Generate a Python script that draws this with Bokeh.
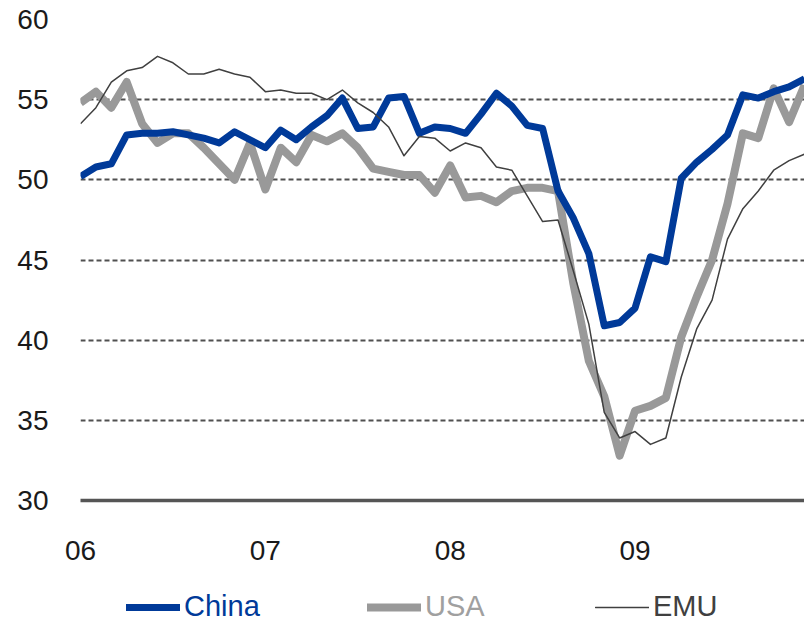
from bokeh.plotting import figure
from bokeh.models import Range1d, FixedTicker, Legend, LegendItem, ColumnDataSource
from bokeh.layouts import column
from bokeh.embed import file_html
from bokeh.resources import INLINE

# Monthly index: 0 = Jan 2006 ... 47 = Dec 2009
months = list(range(48))
year_ticks = [0, 12, 24, 36]
year_labels = ["06", "07", "08", "09"]
y_ticks = [30, 35, 40, 45, 50, 55, 60]

china = [50.2, 50.8, 51.0, 52.8, 52.9, 52.9, 53.0, 52.8, 52.6, 52.3, 53.0, 52.5,
         52.0, 53.1, 52.5, 53.3, 54.0, 55.1, 53.2, 53.3, 55.1, 55.2, 52.9, 53.3,
         53.2, 52.9, 54.1, 55.4, 54.6, 53.4, 53.2, 49.3, 47.6, 45.4, 40.9, 41.1,
         42.0, 45.2, 44.9, 50.1, 51.1, 51.9, 52.8, 55.3, 55.1, 55.5, 55.8, 56.3]
usa = [54.8, 55.5, 54.5, 56.1, 53.5, 52.3, 52.9, 52.9, 52.0, 51.0, 50.0, 52.3,
       49.4, 52.0, 51.1, 52.8, 52.4, 52.9, 52.0, 50.7, 50.5, 50.3, 50.3, 49.2,
       50.9, 48.9, 49.0, 48.6, 49.3, 49.5, 49.5, 49.3, 43.5, 38.7, 36.5, 32.8,
       35.6, 35.9, 36.4, 40.2, 42.7, 45.0, 48.5, 52.9, 52.6, 55.7, 53.6, 55.9]
emu = [53.5, 54.5, 56.1, 56.8, 57.0, 57.7, 57.3, 56.6, 56.6, 56.9, 56.6, 56.4,
       55.5, 55.6, 55.4, 55.4, 55.0, 55.6, 54.8, 54.2, 53.3, 51.5, 52.7, 52.6,
       51.8, 52.3, 52.0, 50.8, 50.6, 49.0, 47.4, 47.5, 44.3, 41.0, 35.5, 33.9,
       34.3, 33.5, 33.9, 37.7, 40.7, 42.5, 46.3, 48.2, 49.3, 50.6, 51.2, 51.6]

series_names = ["China", "USA", "EMU"]
series_colors = ["#003a99", "#999999", "#404040"]
label_colors = ["#003a99", "#a0a0a0", "#404040"]
series_widths = [7, 8, 1.5]

src = ColumnDataSource(dict(x=months, China=china, USA=usa, EMU=emu))

FONT = "Liberation Sans"

p = figure(width=804, height=570, output_backend="svg", toolbar_location=None,
           x_range=Range1d(0, 47), y_range=Range1d(30, 60),
           min_border_left=80, min_border_right=0, min_border_top=19, min_border_bottom=70)
p.outline_line_color = None

# grid
p.xgrid.grid_line_color = None
p.ygrid.grid_line_color = "#505050"
p.ygrid.grid_line_width = 2
p.ygrid.grid_line_dash = "5 3"

# y axis
p.yaxis.ticker = FixedTicker(ticks=y_ticks)
p.yaxis.axis_line_color = None
p.yaxis.major_tick_line_color = None
p.yaxis.minor_tick_line_color = None
p.yaxis.major_label_text_font = FONT
p.yaxis.major_label_text_font_size = "28px"
p.yaxis.major_label_text_color = "#1a1a1a"
p.yaxis.major_label_standoff = 26

# x axis
p.xaxis.ticker = FixedTicker(ticks=year_ticks)
p.xaxis.major_label_overrides = {t: l for t, l in zip(year_ticks, year_labels)}
p.xaxis.axis_line_color = "#555555"
p.xaxis.axis_line_width = 3.5
p.xaxis.major_tick_line_color = None
p.xaxis.minor_tick_line_color = None
p.xaxis.major_label_text_font = FONT
p.xaxis.major_label_text_font_size = "28px"
p.xaxis.major_label_text_color = "#1a1a1a"
p.xaxis.major_label_standoff = 34

for name, col, w in zip(["USA", "China", "EMU"], ["#999999", "#003a99", "#404040"], [8, 7, 1.5]):
    p.line("x", name, source=src, line_color=col, line_width=w, line_join="round")

# legend strip below the chart (its frame is aligned with the chart's frame)
lp = figure(width=804, height=53, output_backend="svg", toolbar_location=None,
            x_range=Range1d(0, 1), y_range=Range1d(0, 1),
            x_axis_type=None, y_axis_type=None,
            min_border_left=80, min_border_right=0, min_border_top=0, min_border_bottom=0)
lp.outline_line_color = None
lp.xgrid.visible = False
lp.ygrid.visible = False

legend_x = [46, 287, 515]
nan = float("nan")
for name, col, lcol, w, lx in zip(series_names, series_colors, label_colors, series_widths, legend_x):
    r = lp.line(x=[0, 1], y=[nan, nan], line_color=col, line_width=w, line_cap="round")
    lg = Legend(items=[LegendItem(label=name, renderers=[r])],
                location=(lx, 0), orientation="horizontal",
                border_line_alpha=0, background_fill_alpha=0,
                padding=0, margin=0, glyph_width=54, glyph_height=20,
                label_standoff=4, label_text_font=FONT,
                label_text_font_size="29px", label_text_color=lcol)
    lp.add_layout(lg, "center")

layout = column(p, lp, spacing=0)
open("out.html", "w").write(file_html(layout, INLINE))
